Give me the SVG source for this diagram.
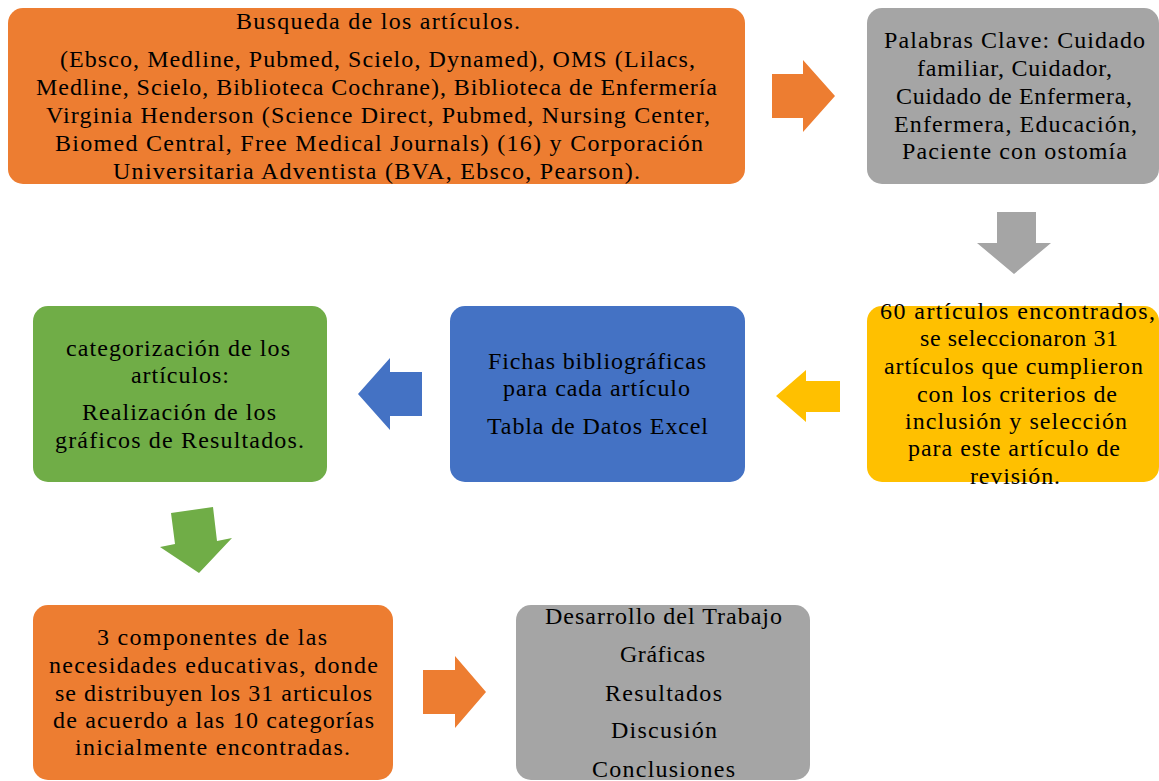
<svg xmlns="http://www.w3.org/2000/svg" width="1159" height="781" viewBox="0 0 1159 781">
<style>
text{font-family:'Liberation Serif','Times New Roman',serif;font-size:24px;fill:#000}
.o{fill:#ED7D31}.g{fill:#A5A5A5}.b{fill:#4472C4}.y{fill:#FFC000}.gr{fill:#70AD47}
</style>
<rect width="1159" height="781" fill="#fff"/>
<g id="connectors">
<polygon class="o" points="772,74 803,74 803,60 835,96 803,132 803,118 772,118"/>
<polygon class="g" points="997,212 1036,212 1036,243 1051,243 1014,274 977,243 997,243"/>
<polygon class="y" points="840,381 806,381 806,370 776,396 806,422 806,412 840,412"/>
<polygon class="b" points="422,372 390,372 390,358 358,394 390,430 390,416 422,416"/>
<polygon class="gr" points="171,513 213,507 217,541 232,538 199,573 160,547 175,544"/>
<polygon class="o" points="423,670 455,670 455,656 486,692 455,728 455,714 423,714"/>
</g>
<g id="n1">
<rect class="o" x="8" y="8" width="737" height="176" rx="15"/>
<text x="236" y="29" textLength="284">Busqueda de los artículos.</text>
<text x="60" y="67" textLength="635">(Ebsco, Medline, Pubmed, Scielo, Dynamed), OMS (Lilacs,</text>
<text x="36" y="95" textLength="681">Medline, Scielo, Biblioteca Cochrane), Biblioteca de Enfermería</text>
<text x="46" y="123" textLength="664">Virginia Henderson (Science Direct, Pubmed, Nursing Center,</text>
<text x="55" y="151" textLength="648">Biomed Central, Free Medical Journals) (16) y Corporación</text>
<text x="113" y="179" textLength="527">Universitaria Adventista (BVA, Ebsco, Pearson).</text>
</g>
<g id="n2">
<rect class="g" x="867" y="8" width="292" height="176" rx="15"/>
<text x="884" y="48" textLength="261">Palabras Clave: Cuidado</text>
<text x="917" y="76" textLength="195">familiar, Cuidador,</text>
<text x="896" y="104" textLength="236">Cuidado de Enfermera,</text>
<text x="894" y="132" textLength="243">Enfermera, Educación,</text>
<text x="902" y="159" textLength="225">Paciente con ostomía</text>
</g>
<g id="n3">
<rect class="y" x="867" y="306" width="292" height="176" rx="15"/>
<text x="880" y="319" textLength="275">60 artículos encontrados,</text>
<text x="920" y="346" textLength="198">se seleccionaron 31</text>
<text x="884" y="374" textLength="259">artículos que cumplieron</text>
<text x="917" y="402" textLength="200">con los criterios de</text>
<text x="905" y="429" textLength="222">inclusión y selección</text>
<text x="908" y="456" textLength="212">para este artículo de</text>
<text x="970" y="484" textLength="90">revisión.</text>
</g>
<g id="n4">
<rect class="b" x="450" y="306" width="295" height="176" rx="15"/>
<text x="488" y="369" textLength="218">Fichas bibliográficas</text>
<text x="503" y="396" textLength="187">para cada artículo</text>
<text x="487" y="434" textLength="221">Tabla de Datos Excel</text>
</g>
<g id="n5">
<rect class="gr" x="33" y="306" width="294" height="176" rx="15"/>
<text x="66" y="356" textLength="224">categorización de los</text>
<text x="131" y="383" textLength="98">artículos:</text>
<text x="82" y="420" textLength="194">Realización de los</text>
<text x="55" y="448" textLength="249">gráficos de Resultados.</text>
</g>
<g id="n6">
<rect class="o" x="33" y="605" width="360" height="175" rx="15"/>
<text x="97" y="645" textLength="230">3 componentes de las</text>
<text x="49" y="673" textLength="329">necesidades educativas, donde</text>
<text x="55" y="701" textLength="317">se distribuyen los 31 articulos</text>
<text x="53" y="728" textLength="321">de acuerdo a las 10 categorías</text>
<text x="75" y="755" textLength="275">inicialmente encontradas.</text>
</g>
<g id="n7">
<rect class="g" x="516" y="605" width="294" height="175" rx="15"/>
<text x="545" y="624" textLength="237">Desarrollo del Trabajo</text>
<text x="620" y="662" textLength="85">Gráficas</text>
<text x="605" y="701" textLength="117">Resultados</text>
<text x="611" y="738" textLength="106">Discusión</text>
<text x="592" y="777" textLength="143">Conclusiones</text>
</g>
</svg>
